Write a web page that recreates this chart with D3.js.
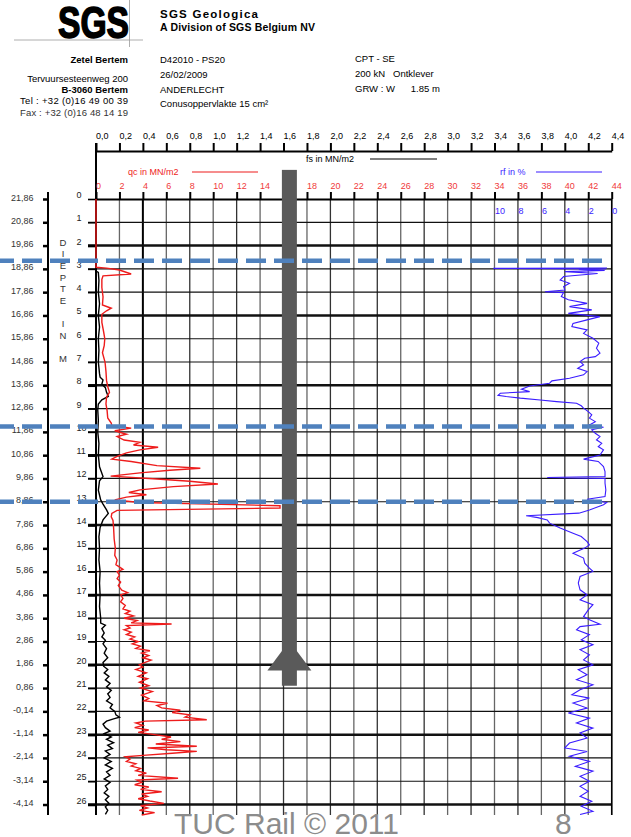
<!DOCTYPE html>
<html><head><meta charset="utf-8">
<script src="https://cdn.jsdelivr.net/npm/d3@7"></script>
<style>
body{margin:0;background:#fff}
svg text{font-family:"Liberation Sans",Arial,sans-serif}
</style></head><body>
<svg id="chart" width="631" height="837"></svg>
<script>
// axes / tick labels
const qcTicks = [0,2,4,6,8,10,12,14,16,18,20,22,24,26,28,30,32,34,36,38,40,42,44];
const fsTicks = [0,0.2,0.4,0.6,0.8,1.0,1.2,1.4,1.6,1.8,2.0,2.2,2.4,2.6,2.8,3.0,3.2,3.4,3.6,3.8,4.0,4.2,4.4];
const fsLabels = ["0,0","0,2","0,4","0,6","0,8","1,0","1,2","1,4","1,6","1,8","2,0","2,2","2,4","2,6","2,8","3,0","3,2","3,4","3,6","3,8","4,0","4,2","4,4"];
const rfTicks = [10,8,6,4,2,0];
const depthTicks = [0,1,2,3,4,5,6,7,8,9,10,11,12,13,14,15,16,17,18,19,20,21,22,23,24,25,26];
const elevLabels = ["21,86","20,86","19,86","18,86","17,86","16,86","15,86","14,86","13,86","12,86","11,86","10,86","9,86","8,86","7,86","6,86","5,86","4,86","3,86","2,86","1,86","0,86","-0,14","-1,14","-2,14","-3,14","-4,14"];
const thickDepths = [2,5,8,11,14,17,20,23,26];
const layerDepths = [2.65, 9.77, 13.0];   // blue dashed levels

// series: [depth m, value]
const qc = [[0,0],[2.93,0],[2.97,0.9],[3.05,2.0],[3.22,3.0],[3.3,0.6],[3.45,0.5],[3.8,0.5],[4.2,0.6],[4.55,0.55],[4.69,1.3],[4.8,0.9],[4.95,0.5],[5.3,0.5],[5.7,0.65],[6.0,0.75],[6.3,0.7],[6.6,0.55],[7.0,0.77],[7.4,0.85],[7.8,0.9],[8.05,1.0],[8.3,1.15],[8.5,0.9],[8.8,0.85],[9.1,0.95],[9.4,1.0],[9.62,1.3],[9.72,1.35],[9.84,3.0],[9.95,1.6],[10.1,2.6],[10.2,1.8],[10.35,2.4],[10.45,3.75],[10.56,3.2],[10.66,5.3],[10.77,3.75],[10.9,2.6],[11.05,1.8],[11.17,1.35],[11.27,3.0],[11.45,5.2],[11.56,8.9],[11.65,6.3],[11.76,3.75],[11.9,1.25],[12.02,5.2],[12.12,8.0],[12.24,10.4],[12.35,6.6],[12.49,3.75],[12.6,2.8],[12.7,4.3],[12.8,2.6],[12.92,1.6],[13.03,3.75],[13.17,15.7],[13.27,15.7],[13.37,1.8],[13.5,1.35],[13.65,1.3],[13.8,1.45],[14.1,1.5],[14.6,1.55],[15.0,1.65],[15.3,1.6],[15.5,1.8],[15.7,1.7],[15.9,2.3],[16.0,1.8],[16.15,2.0],[16.3,1.8],[16.45,2.1],[16.6,1.9],[16.8,2.2],[16.9,2.7],[17.0,2.1],[17.15,2.3],[17.3,2.1],[17.45,2.5],[17.6,2.3],[17.7,2.9],[17.8,2.5],[17.9,3.2],[18.0,2.4],[18.1,3.5],[18.2,3.0],[18.25,6.45],[18.32,2.6],[18.42,2.9],[18.5,2.4],[18.6,3.0],[18.7,2.6],[18.8,3.3],[18.9,2.9],[19.0,3.6],[19.1,3.1],[19.2,3.8],[19.3,3.4],[19.4,4.6],[19.5,3.9],[19.6,4.5],[19.7,4.0],[19.8,4.7],[19.9,4.2],[20.0,3.7],[20.1,4.0],[20.2,3.4],[20.35,4.3],[20.5,3.6],[20.6,4.4],[20.75,3.7],[20.9,4.5],[21.0,3.8],[21.15,4.8],[21.3,3.9],[21.45,4.5],[21.55,4.1],[21.65,6.1],[21.75,5.2],[21.85,5.6],[21.95,7.2],[22.05,6.5],[22.15,8.0],[22.25,7.6],[22.36,9.45],[22.42,4.2],[22.5,3.4],[22.6,4.0],[22.7,3.3],[22.8,4.5],[22.9,3.6],[23.0,5.0],[23.1,6.4],[23.2,5.6],[23.3,7.2],[23.4,5.1],[23.5,8.6],[23.57,4.4],[23.65,6.0],[23.72,8.6],[23.8,6.5],[23.88,4.3],[23.95,2.5],[24.05,2.9],[24.15,2.6],[24.25,3.4],[24.35,3.0],[24.45,3.8],[24.55,3.4],[24.65,4.3],[24.75,3.6],[24.87,7.0],[24.95,3.5],[25.05,3.9],[25.15,3.3],[25.25,4.5],[25.35,3.8],[25.45,5.6],[25.55,3.9],[25.65,4.4],[25.75,3.6],[25.85,4.6],[25.95,5.8],[26.05,3.8],[26.15,4.4],[26.25,3.7],[26.35,5.0],[26.45,3.9]];

const fs = [[3.1,0.0],[3.15,0.02],[3.5,0.025],[4.0,0.02],[4.5,0.03],[5.0,0.02],[5.5,0.03],[6.0,0.02],[6.5,0.025],[7.0,0.02],[7.5,0.03],[7.65,0.035],[7.77,0.06],[7.95,0.05],[8.1,0.08],[8.3,0.09],[8.48,0.105],[8.62,0.05],[8.8,0.02],[9.06,0.015],[9.5,0.02],[10.0,0.015],[10.5,0.025],[11.0,0.02],[11.5,0.03],[11.92,0.06],[12.1,0.03],[12.5,0.02],[12.92,0.04],[13.1,0.06],[13.35,0.09],[13.5,0.105],[13.78,0.06],[14.1,0.035],[14.5,0.025],[15.0,0.03],[15.5,0.025],[16.0,0.035],[16.5,0.03],[17.0,0.035],[17.5,0.03],[18.0,0.04],[18.21,0.04],[18.3,0.08],[18.45,0.05],[18.63,0.07],[18.8,0.05],[18.95,0.08],[19.1,0.06],[19.3,0.09],[19.5,0.07],[19.7,0.1],[19.9,0.06],[20.06,0.065],[20.2,0.1],[20.35,0.07],[20.5,0.11],[20.65,0.08],[20.8,0.12],[20.95,0.09],[21.1,0.13],[21.25,0.1],[21.4,0.12],[21.55,0.09],[21.7,0.14],[21.85,0.12],[22.0,0.16],[22.15,0.17],[22.25,0.2],[22.32,0.15],[22.42,0.09],[22.55,0.06],[22.7,0.08],[22.85,0.12],[22.95,0.07],[23.1,0.13],[23.2,0.09],[23.35,0.15],[23.45,0.1],[23.6,0.14],[23.7,0.08],[23.85,0.12],[24.0,0.07],[24.15,0.13],[24.3,0.08],[24.45,0.14],[24.6,0.09],[24.75,0.12],[24.9,0.07],[25.05,0.12],[25.2,0.08],[25.35,0.1],[25.5,0.07],[25.65,0.11],[25.8,0.08],[25.95,0.11],[26.1,0.08],[26.25,0.1],[26.42,0.08]];

const rf = [[2.96,0.4],[2.98,10.1],[3.0,0.5],[3.03,2.8],[3.07,0.6],[3.12,4.0],[3.2,1.2],[3.33,4.1],[3.48,4.4],[3.62,3.6],[3.76,4.1],[3.91,4.0],[3.98,5.7],[4.02,4.1],[4.19,4.3],[4.33,3.7],[4.48,2.1],[4.62,3.6],[4.76,1.7],[4.91,3.7],[5.05,1.0],[5.19,2.1],[5.34,3.3],[5.48,3.4],[5.62,2.1],[5.77,2.4],[5.98,1.6],[6.19,1.1],[6.41,1.3],[6.62,1.0],[6.77,1.4],[6.84,2.3],[6.98,2.7],[7.12,2.4],[7.27,2.9],[7.41,2.1],[7.55,2.4],[7.7,3.6],[7.81,5.1],[7.91,5.3],[8.03,7.0],[8.17,7.7],[8.27,7.0],[8.34,9.5],[8.43,9.7],[8.48,9.0],[8.55,7.8],[8.63,6.1],[8.7,4.7],[8.77,3.0],[8.88,2.6],[8.98,2.4],[9.13,2.0],[9.27,1.7],[9.41,1.9],[9.56,1.4],[9.7,1.9],[9.8,0.7],[9.91,1.7],[10.06,1.4],[10.2,1.0],[10.34,1.3],[10.49,0.85],[10.63,1.15],[10.77,0.7],[10.99,1.0],[11.17,2.4],[11.27,1.15],[11.49,0.7],[11.7,0.57],[11.92,0.57],[11.96,5.5],[12.0,0.57],[12.2,0.57],[12.49,0.5],[12.78,0.57],[12.89,2.1],[13.03,0.43],[13.13,0.7],[13.35,1.9],[13.49,2.8],[13.6,7.3],[13.68,6.3],[13.78,5.5],[13.92,5.3],[14.13,4.4],[14.35,3.3],[14.49,2.6],[14.71,2.1],[14.85,1.9],[14.99,2.3],[15.21,3.3],[15.42,2.4],[15.64,2.3],[15.85,1.9],[15.99,1.6],[16.21,2.7],[16.49,2.85],[16.78,2.7],[16.99,2.1],[17.21,2.7],[17.42,1.6],[17.64,2.0],[17.93,2.4],[18.07,1.9],[18.26,1.0],[18.36,2.7],[18.5,3.0],[18.71,1.9],[18.93,2.6],[19.14,1.6],[19.35,2.7],[19.57,1.9],[19.79,2.4],[20.0,1.6],[20.21,2.85],[20.43,2.1],[20.64,3.0],[20.86,1.6],[21.07,2.7],[21.29,3.4],[21.43,1.9],[21.64,3.3],[21.86,2.1],[22.07,3.7],[22.29,1.9],[22.5,3.0],[22.72,1.6],[22.93,2.7],[23.15,2.1],[23.36,3.6],[23.57,4.0],[23.72,2.1],[23.93,3.6],[24.15,1.9],[24.36,3.1],[24.57,1.6],[24.79,2.7],[25.0,1.9],[25.22,2.7],[25.43,2.0],[25.65,2.7],[25.86,1.7],[26.07,2.6],[26.29,1.6],[26.43,2.7]];

const svg = d3.select("#chart");
const red = "#ee1c1c", blue = "#3a1cff", grey = "#5a5a5a";

const x = d3.scaleLinear().domain([0, 44]).range([96, 611.7]);
const xFs = d3.scaleLinear().domain([0, 4.4]).range([96, 611.7]);
const xRf = d3.scaleLinear().domain([10, 0]).range([x(34), x(44)]);
const y = d3.scaleLinear().domain([0, 26.45]).range([199, 815]);

// ---------- header ----------
const hd = svg.append("g");
hd.append("line").attr("x1", 14).attr("x2", 143).attr("y1", 40).attr("y2", 40).attr("stroke", "#999").attr("stroke-width", 0.8);
hd.append("line").attr("x1", 129.5).attr("x2", 129.5).attr("y1", 0).attr("y2", 47).attr("stroke", "#999").attr("stroke-width", 0.8);
hd.append("text").attr("x", 58).attr("y", 38).text("SGS")
  .style("font-family", "'Liberation Sans Narrow','Liberation Sans',Arial").style("font-weight", "bold").style("font-size", "44px")
  .attr("stroke", "#000").attr("stroke-width", 1.6).attr("stroke-linejoin", "round")
  .attr("textLength", 71).attr("lengthAdjust", "spacingAndGlyphs");
hd.append("text").attr("x", 160).attr("y", 18).text("SGS Geologica")
  .style("font-weight", "bold").style("font-size", "11.5px").attr("textLength", 98);
hd.append("text").attr("x", 160).attr("y", 31).text("A Division of SGS Belgium NV")
  .style("font-weight", "bold").style("font-size", "10.5px").attr("textLength", 155);

const leftLines = [["Zetel Bertem", 63, true], ["Tervuursesteenweg 200", 82, false], ["B-3060 Bertem", 93, true]];
leftLines.forEach(([t, yy, b]) => hd.append("text").attr("x", 128).attr("y", yy).attr("text-anchor", "end")
  .style("font-size", "9.5px").style("font-weight", b ? "bold" : "normal").text(t));
hd.append("text").attr("x", 20).attr("y", 104).style("font-size", "9.5px").attr("textLength", 108).text("Tel  : +32 (0)16 49 00 39");
hd.append("text").attr("x", 20).attr("y", 116).style("font-size", "9.5px").attr("fill", "#333").attr("textLength", 108).text("Fax : +32 (0)16 48 14 19");

const midLines = [["D42010 - PS20", 63], ["26/02/2009", 78], ["ANDERLECHT", 93]];
midLines.forEach(([t, yy]) => hd.append("text").attr("x", 160).attr("y", yy).style("font-size", "9.5px").text(t));
hd.append("text").attr("x", 160).attr("y", 107).style("font-size", "9.5px").text("Conusoppervlakte 15 cm²");
const rightLines = [["CPT - SE", 62], ["200 kN   Ontklever", 77], ["GRW : W      1.85 m", 92]];
rightLines.forEach(([t, yy]) => hd.append("text").attr("x", 355).attr("y", yy).style("font-size", "9.5px")
  .attr("xml:space", "preserve").style("white-space", "pre").text(t));

// ---------- grid ----------
const grid = svg.append("g");
grid.selectAll("line.v").data(qcTicks).join("line").attr("class", "v")
  .attr("x1", d => x(d)).attr("x2", d => x(d)).attr("y1", y(0)).attr("y2", 815)
  .attr("stroke", d => d === 4 ? "#000" : (d / 2) % 2 ? "#666" : "#333")
  .attr("stroke-width", d => d === 4 ? 2 : 1.3);
grid.selectAll("line.h").data(depthTicks.slice(1)).join("line").attr("class", "h")
  .attr("x1", 88).attr("x2", x(44)).attr("y1", d => y(d)).attr("y2", d => y(d))
  .attr("stroke", "#111").attr("stroke-width", d => thickDepths.includes(d) ? 2.5 : 1.2);

// frame lines
svg.append("line").attr("x1", 48).attr("x2", 48).attr("y1", 192).attr("y2", 815).attr("stroke", "#000").attr("stroke-width", 2);
svg.append("line").attr("x1", x(0)).attr("x2", x(0)).attr("y1", 143).attr("y2", 815).attr("stroke", "#000").attr("stroke-width", 2);
svg.append("line").attr("x1", x(44)).attr("x2", x(44)).attr("y1", y(0)).attr("y2", 815).attr("stroke", "#000").attr("stroke-width", 1.5);

// ---------- top axes ----------
const fsAxis = svg.append("g").attr("transform", "translate(0,151)")
  .call(d3.axisTop(xFs).tickValues(fsTicks).tickSize(8).tickSizeOuter(0).tickFormat((d, i) => fsLabels[i]));
const qcAxis = svg.append("g").attr("transform", `translate(0,${y(0)})`)
  .call(d3.axisTop(x).tickValues(qcTicks).tickSize(7).tickSizeOuter(0));
[fsAxis, qcAxis].forEach(g => {
  g.select(".domain").attr("stroke", "#000").attr("stroke-width", 2);
  g.selectAll(".tick line").attr("stroke", "#000").attr("stroke-width", 2);
  g.selectAll(".tick text").attr("text-anchor", "start").attr("x", -0.5)
    .style("font-family", "'Liberation Sans',Arial").style("font-size", "9px");
});
fsAxis.selectAll(".tick text").attr("y", -12.5).attr("fill", "#000");
qcAxis.selectAll(".tick text").attr("y", -10).attr("fill", "#f03a3a");

// rf labels inside the plot
svg.append("g").selectAll("text").data(rfTicks).join("text")
  .attr("x", d => xRf(d) + 0.5).attr("y", 214).attr("fill", blue).style("font-size", "9px").text(d => d);

// series captions
const cap = svg.append("g").style("font-size", "9px");
cap.append("text").attr("x", 128).attr("y", 175).attr("fill", red).text("qc in MN/m2");
cap.append("line").attr("x1", 192).attr("x2", 258).attr("y1", 172).attr("y2", 172).attr("stroke", red).attr("stroke-width", 1.2);
cap.append("text").attr("x", 306).attr("y", 162).attr("fill", "#000").text("fs in MN/m2");
cap.append("line").attr("x1", 370).attr("x2", 437).attr("y1", 159).attr("y2", 159).attr("stroke", "#000").attr("stroke-width", 1.2);
cap.append("text").attr("x", 500).attr("y", 175).attr("fill", blue).text("rf in %");
cap.append("line").attr("x1", 536).attr("x2", 602).attr("y1", 172).attr("y2", 172).attr("stroke", blue).attr("stroke-width", 1.2);

// ---------- left axes ----------
const depthAxis = svg.append("g").attr("transform", `translate(${x(0)},0)`)
  .call(d3.axisLeft(y).tickValues(depthTicks).tickSize(8).tickSizeOuter(0));
depthAxis.select(".domain").remove();
depthAxis.selectAll(".tick line").attr("stroke", "#000").attr("stroke-width", d => thickDepths.includes(d) ? 2.5 : 1.6);
depthAxis.selectAll(".tick text").attr("x", -19.5).attr("dy", 0).attr("y", -1.5).attr("text-anchor", "start")
  .attr("fill", "#222").style("font-family", "'Liberation Sans',Arial").style("font-size", "9px");

const elevAxis = svg.append("g").attr("transform", "translate(48,0)")
  .call(d3.axisLeft(y).tickValues(depthTicks).tickSize(5).tickSizeOuter(0).tickFormat((d, i) => elevLabels[i]));
elevAxis.select(".domain").remove();
elevAxis.selectAll(".tick line").attr("stroke", "#000").attr("stroke-width", 2.5);
elevAxis.selectAll(".tick text").attr("x", -14.5).attr("dy", 0).attr("y", 1).attr("fill", "#333")
  .style("font-family", "'Liberation Sans',Arial").style("font-size", "9px");

// vertical caption
const caption = [["D", 1.85], ["I", 2.35], ["E", 2.85], ["P", 3.35], ["T", 3.85], ["E", 4.35], ["I", 5.35], ["N", 5.85], ["M", 6.85]];
svg.append("g").selectAll("text").data(caption).join("text")
  .attr("x", 63).attr("y", d => y(d[1]) + 3.5).attr("text-anchor", "middle")
  .attr("fill", "#333").style("font-size", "9.5px").text(d => d[0]);

// ---------- curves ----------
const lineQc = d3.line().x(d => x(d[1])).y(d => y(d[0]));
const lineFs = d3.line().x(d => xFs(d[1])).y(d => y(d[0]));
const lineRf = d3.line().x(d => xRf(d[1])).y(d => y(d[0]));
svg.append("path").datum(fs).attr("d", lineFs).attr("fill", "none").attr("stroke", "#000").attr("stroke-width", 1.4);
svg.append("path").datum(qc).attr("d", lineQc).attr("fill", "none").attr("stroke", red).attr("stroke-width", 1.4);
svg.append("path").datum(rf).attr("d", lineRf).attr("fill", "none").attr("stroke", blue).attr("stroke-width", 1.1);

// ---------- annotations ----------
const arrowQc = 16.5, arrowTop = -1.25, arrowBase = 20.25, arrowTip = 18.98, arrowEnd = 20.9;
const ax = x(arrowQc);
svg.append("rect").attr("x", ax - 7.5).attr("width", 15).attr("y", y(arrowTop)).attr("height", y(arrowEnd) - y(arrowTop)).attr("fill", grey);
svg.append("path").attr("d", `M${ax - 22},${y(arrowBase)} L${ax},${y(arrowTip)} L${ax + 22},${y(arrowBase)} Z`).attr("fill", grey);

svg.append("g").selectAll("line").data(layerDepths).join("line")
  .attr("x1", 0).attr("x2", 606).attr("y1", d => y(d)).attr("y2", d => y(d))
  .attr("stroke", "#4f81bd").attr("stroke-width", 4.5).attr("stroke-dasharray", "20,8").attr("stroke-dashoffset", 6);

// footer
svg.append("text").attr("x", 174).attr("y", 834).attr("fill", "#8c8c8c").style("font-size", "30px").text("TUC Rail © 2011");
svg.append("text").attr("x", 555).attr("y", 834).attr("fill", "#8c8c8c").style("font-size", "30px").text("8");
</script>
</body></html>
